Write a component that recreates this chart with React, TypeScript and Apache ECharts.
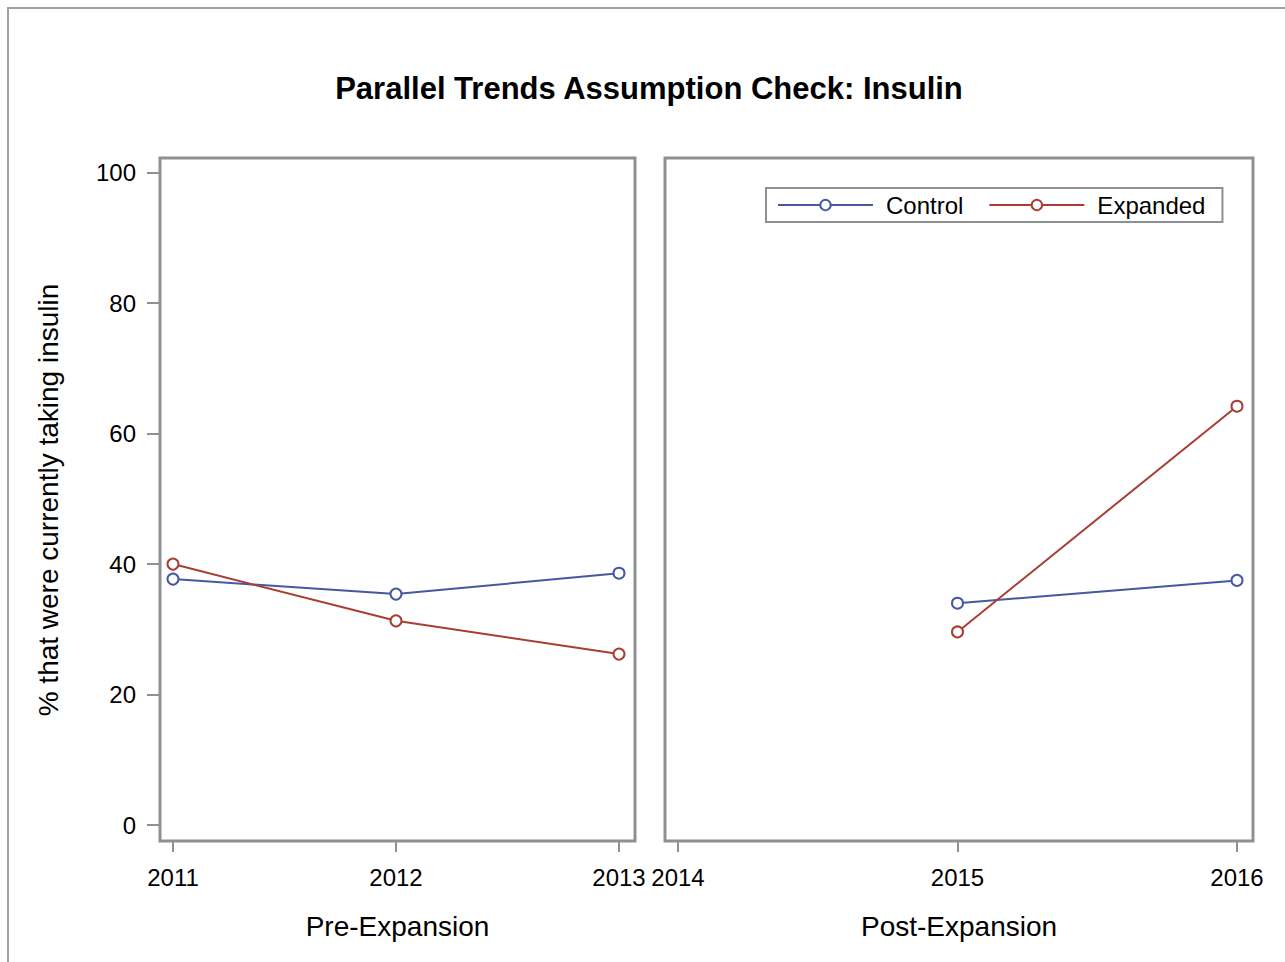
import React, { useEffect, useRef } from "react";
import * as echarts from "echarts";

const seriesNames = ["Control", "Expanded"];
const preYears = [2011, 2012, 2013];
const postYears = [2015, 2016];
const preControl = [37.7, 35.4, 38.6];
const preExpanded = [40.0, 31.3, 26.2];
const postControl = [34.0, 37.5];
const postExpanded = [29.6, 64.2];
const preTicks = [2011, 2012, 2013];
const postTicks = [2014, 2015, 2016];
const yTicks = [0, 20, 40, 60, 80, 100];
const colors = ["#4658A0", "#A83E33"];

const FONT = "Liberation Sans, Arial, sans-serif";

export default function App() {
  const ref = useRef<HTMLDivElement>(null);
  useEffect(() => {
    document.body.style.margin = "0";
    const chart = echarts.init(ref.current!, undefined, { renderer: "svg" });
    const frame = "#8e9094";
    const xAxisBase = (gridIndex: number, min: number, max: number, ticks: number[], name: string) => ({
      type: "value",
      gridIndex,
      min,
      max,
      name,
      nameLocation: "middle",
      nameGap: 71,
      nameTextStyle: { fontFamily: FONT, fontSize: 28, color: "#000" },
      axisLine: { show: false, onZero: false },
      splitLine: { show: false },
      axisTick: { show: true, length: 11, customValues: ticks, lineStyle: { color: frame, width: 2 } },
      axisLabel: { customValues: ticks, fontFamily: FONT, fontSize: 24, color: "#000", margin: 24, formatter: (v: number) => String(v) },
    });
    const yAxisBase = (gridIndex: number, show: boolean) => ({
      type: "value",
      gridIndex,
      min: -2.45,
      max: 102.25,
      axisLine: { show: false, onZero: false },
      splitLine: { show: false },
      axisTick: { show, length: 13, customValues: yTicks, lineStyle: { color: frame, width: 2 } },
      axisLabel: { show, customValues: yTicks, fontFamily: FONT, fontSize: 24, color: "#000", margin: 24 },
    });
    const mk = (name: string, idx: number, years: number[], vals: number[], color: string) => ({
      type: "line",
      name,
      xAxisIndex: idx,
      yAxisIndex: idx,
      data: years.map((y, i) => [y, vals[i]]),
      symbol: "emptyCircle",
      symbolSize: 11,
      showSymbol: true,
      color,
      lineStyle: { color, width: 2 },
      itemStyle: { color, borderColor: color, borderWidth: 1.5 },
    });
    chart.setOption({
      animation: false,
      backgroundColor: "#ffffff",
      title: {
        text: "Parallel Trends Assumption Check: Insulin",
        left: 644,
        top: 68,
        textAlign: "center",
        textStyle: { fontFamily: FONT, fontSize: 31, fontWeight: "bold", color: "#000" },
      },
      legend: {
        data: seriesNames,
        left: 766,
        top: 188,
        orient: "horizontal",
        itemWidth: 95,
        itemHeight: 13,
        itemGap: 25,
        padding: [5, 17, 5, 11],
        borderColor: frame,
        borderWidth: 2,
        textStyle: { fontFamily: FONT, fontSize: 24, color: "#000", padding: [0, 0, 0, 8] },
      },
      grid: [
        { left: 160, top: 158, width: 475, height: 683, show: true, borderColor: frame, borderWidth: 3, backgroundColor: "transparent" },
        { left: 665, top: 158, width: 588, height: 683, show: true, borderColor: frame, borderWidth: 3, backgroundColor: "transparent" },
      ],
      xAxis: [
        xAxisBase(0, 2011 - 13 / 223, 2013 + 16 / 223, preTicks, "Pre-Expansion"),
        xAxisBase(1, 2014 - 13 / 279.5, 2016 + 16 / 279.5, postTicks, "Post-Expansion"),
      ],
      yAxis: [yAxisBase(0, true), yAxisBase(1, false)],
      series: [
        mk(seriesNames[0], 0, preYears, preControl, colors[0]),
        mk(seriesNames[1], 0, preYears, preExpanded, colors[1]),
        mk(seriesNames[0], 1, postYears, postControl, colors[0]),
        mk(seriesNames[1], 1, postYears, postExpanded, colors[1]),
      ],
      graphic: [
        { type: "rect", shape: { x: 8, y: 8, width: 1400, height: 1100 }, style: { fill: "none", stroke: "#a0a0a0", lineWidth: 2 }, silent: true },
        {
          type: "text",
          x: 48,
          y: 500,
          rotation: Math.PI / 2,
          style: { text: "% that were currently taking insulin", font: `28px ${FONT}`, fill: "#000", textAlign: "center", textVerticalAlign: "middle" },
        },
      ],
    });
    return () => chart.dispose();
  }, []);
  return <div ref={ref} style={{ width: 1285, height: 962 }} />;
}
